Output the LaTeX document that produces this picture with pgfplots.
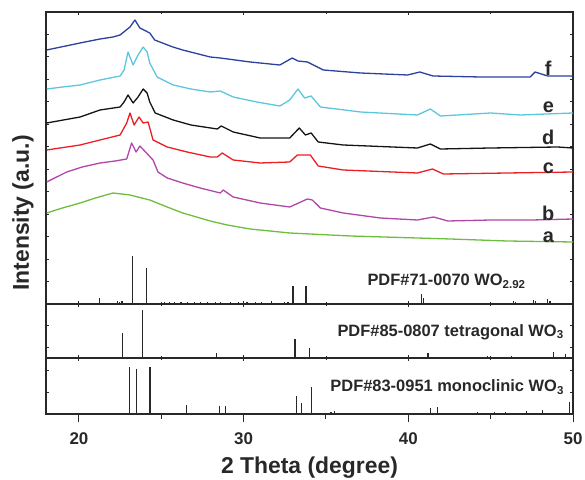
\documentclass[border=0pt]{standalone}
\usepackage{fontspec}
\setmainfont{Liberation Sans}
\usepackage{pgfplots}
\pgfplotsset{compat=1.18}
\definecolor{cf}{RGB}{44,64,160}
\definecolor{ce}{RGB}{92,198,222}
\definecolor{cd}{RGB}{20,20,20}
\definecolor{cc}{RGB}{236,30,36}
\definecolor{cb}{RGB}{176,70,166}
\definecolor{ca}{RGB}{110,190,62}
\definecolor{ax}{RGB}{40,40,40}
\tikzset{
  lab/.style={font=\fontsize{20}{20}\selectfont\bfseries, text=ax, inner sep=0pt},
  pdf/.style={font=\fontsize{16.5}{16.5}\selectfont\bfseries, text=ax, inner sep=0pt, anchor=west},
}
\begin{document}
\begin{tikzpicture}
\pgfplotsset{
  panel/.style={scale only axis, width=527bp, xmin=18, xmax=50,
    xtick={20,30,40,50}, minor xtick={25,35,45}, xticklabels={},
    ytick=\empty, yticklabels={}, tick align=inside,
    major tick length=3bp, minor tick length=2bp,
    axis line style={line width=1.1bp, ax},
    every tick/.style={line width=0.9bp, ax}},
  stick/.style={ycomb, line width=1.2bp, ax, mark=none},
  curve/.style={line width=1.3bp, mark=none, line join=round},
}
% ---------------- bottom panel: PDF#83-0951
\begin{axis}[panel, at={(0bp,0bp)}, anchor=south west, height=56bp,
  ymin=0, ymax=56, ytick={21.3,44}, ytick pos=both, xtick pos=right]
\addplot[stick] coordinates {
 (23.06,47) (23.51,45) (24.32,47) (26.55,9) (28.54,8) (28.88,8)
 (33.2,18) (33.5,11) (34.1,27) (35.3,2) (35.53,3) (41.34,6) (41.79,7)
 (44.18,2) (45.23,2) (45.9,2) (47.16,3) (48.15,4) (49.81,12)};
\node[pdf] at (axis cs:35.26,27) {PDF\#83-0951 monoclinic WO\textsubscript{3}};
\end{axis}
% bottom x axis with outward ticks and labels
\begin{axis}[scale only axis, width=527bp, height=56bp, at={(0bp,0bp)}, anchor=south west,
  xmin=18, xmax=50, ymin=0, ymax=56, hide y axis, axis x line*=bottom,
  xtick={20,30,40,50}, minor xtick={25,35,45}, xticklabels={20,30,40,50},
  tick align=outside, major tick length=8bp, minor tick length=5bp,
  axis line style={line width=1.1bp, ax}, every tick/.style={line width=1bp, ax},
  xticklabel style={font=\fontsize{17}{17}\selectfont\bfseries, text=ax, anchor=center, yshift=-17bp},
  xlabel={2 Theta (degree)},
  xlabel style={font=\fontsize{23}{23}\selectfont\bfseries, text=ax, at={(axis description cs:0.5,0)}, anchor=center, yshift=-54bp}]
\end{axis}
% ---------------- middle panel: PDF#85-0807
\begin{axis}[panel, at={(0bp,56bp)}, anchor=south west, height=54bp,
  ymin=0, ymax=54, ytick={10.7,33}, ytick pos=both, xtick pos=both]
\addplot[stick] coordinates {
 (22.66,25) (23.85,48) (28.33,5) (33.12,19) (33.99,10) (41.2,5)
 (44.79,2) (46.27,2) (48.8,6) (49.55,4)};
\node[pdf] at (axis cs:35.69,26) {PDF\#85-0807 tetragonal WO\textsubscript{3}};
\end{axis}
% ---------------- top panel: curves and PDF#71-0070
\begin{axis}[panel, at={(0bp,110bp)}, anchor=south west, height=292bp,
  ymin=0, ymax=292, ytick={22.5,45,...,270}, ytick pos=both, xtick pos=both]
\addplot[stick] coordinates {
 (21.24,6) (22.32,3) (22.45,2) (22.62,3) (23.25,48) (24.12,36)
 (25.2,1.5) (25.5,1.5) (25.8,1.5) (26.2,1.5) (26.6,1.5) (27.0,1.5) (27.4,1.5)
 (27.8,1.5) (28.3,2) (28.6,1.5) (29.2,1.5) (29.7,1.5) (30.2,1.5) (30.7,1.5)
 (31.1,1.5) (31.7,2.5) (32.5,2) (32.7,2) (33.0,18) (33.79,18) (40.8,10) (40.94,6)
 (46.4,3) (46.5,2) (47.6,4) (47.7,3) (48.44,5) (48.6,3)};
\node[pdf] at (axis cs:37.51,22.5) {PDF\#71-0070 WO\textsubscript{2.92}};
% a (green)
\addplot[curve, ca] coordinates {
 (18.04,91) (19.0,96) (20.07,101) (21.0,106) (22.07,111) (23.1,109) (24.3,104)
 (25.36,97) (26.3,91) (27.97,83) (29.0,79) (30.4,75) (32.8,71) (36.5,68)
 (42.56,65) (46.0,63) (50,62)};
% b (magenta)
\addplot[curve, cb] coordinates {
 (18.04,122) (19.26,132) (20.2,137) (21.28,141) (22.2,143) (22.9,145) (23.2,161)
 (23.47,152) (23.7,158) (24.1,151) (24.5,144) (24.8,132) (25.36,126) (26.3,121)
 (27.36,116) (28.58,111) (28.76,114) (29.37,107) (31.0,101) (32.8,97)
 (33.87,105) (34.17,104) (34.66,96) (36.05,91) (38.3,86) (40.55,84) (41.53,87)
 (42.4,83) (45.0,84) (47.5,84) (50,85)};
% c (red)
\addplot[curve, cc] coordinates {
 (18.04,154) (20.07,159) (21.28,164) (22.5,169) (22.9,181) (23.1,191)
 (23.35,179) (23.65,187) (23.9,181) (24.2,182) (24.5,164) (25.36,157)
 (26.57,152) (27.97,147) (28.4,147) (28.7,151) (29.37,144) (31.0,141)
 (32.8,142) (33.26,149) (34.05,149) (34.53,138) (36.05,134) (40.55,131)
 (41.47,135) (42.13,130) (46.0,131) (50,132)};
% d (black)
\addplot[curve, cd] coordinates {
 (18.04,181) (20.07,187) (21.28,194) (22.5,197) (22.74,202) (22.98,209)
 (23.29,201) (23.59,207) (23.9,215) (24.14,211) (24.3,202) (24.63,191)
 (25.72,184) (26.8,179) (28.4,175) (28.64,178) (29.37,172) (31.0,166)
 (32.8,166) (33.38,176) (33.75,169) (34.1,171) (34.53,162) (36.05,159)
 (40.55,156) (41.34,160) (41.95,155) (45.0,156) (49.06,157) (50,156)};
% e (cyan)
\addplot[curve, ce] coordinates {
 (18.04,215) (19.0,217) (20.07,219) (21.28,224) (22.5,228) (22.74,234)
 (22.98,252) (23.29,239) (23.59,249) (23.9,257) (24.14,252) (24.3,241)
 (24.75,227) (25.72,219) (26.8,215) (27.97,212) (28.58,213) (29.37,207)
 (30.8,202) (32.2,198) (32.8,204) (33.3,215) (33.7,206) (34.1,208)
 (34.66,197) (37.1,192) (40.55,189) (41.34,195) (41.95,188) (45.0,191)
 (46.8,189) (50,191)};
% f (blue)
\addplot[curve, cf] coordinates {
 (18.04,254) (20.07,261) (21.28,265) (22.07,267) (22.5,269) (23.1,277)
 (23.4,284) (23.7,276) (24.3,271) (24.6,264) (25.7,257) (26.3,254)
 (27.97,247) (28.58,246) (30.4,242) (32.2,239) (32.95,246) (33.3,243)
 (33.87,242) (34.84,234) (37.1,231) (39.95,229) (40.7,232) (41.5,228)
 (44.4,227) (47.4,227) (47.7,232) (48.46,228) (50,228)};
\node[lab] at (axis cs:48.5,236) {f};
\node[lab] at (axis cs:48.5,197) {e};
\node[lab] at (axis cs:48.5,167) {d};
\node[lab] at (axis cs:48.5,136) {c};
\node[lab] at (axis cs:48.5,91) {b};
\node[lab] at (axis cs:48.5,67) {a};
\end{axis}
\node[rotate=90, font=\fontsize{23}{23}\selectfont\bfseries, text=ax] at (-23bp,201bp) {Intensity (a.u.)};
\pgfresetboundingbox
\useasboundingbox (-46bp,-66bp) rectangle (539bp,414bp);
\end{tikzpicture}
\end{document}
